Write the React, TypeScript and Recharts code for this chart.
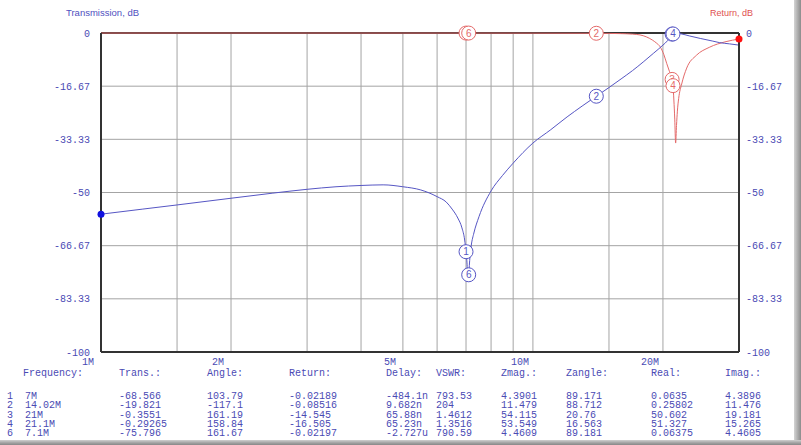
import React from "react";
import {
  ComposedChart,
  Line,
  Scatter,
  XAxis,
  YAxis,
  CartesianGrid,
  ReferenceLine,
} from "recharts";

// ---- axis ticks ----
const xGridTicks = [1, 1.5, 2, 3, 4, 5, 6, 7, 8, 9, 10, 15, 20, 30];
const xLabelValues = [1, 2, 5, 10, 20];
const xLabelTexts = ["1M", "2M", "5M", "10M", "20M"];
const yTicks = [0, -16.67, -33.33, -50, -66.67, -83.33, -100];
const yLabels = ["0", "-16.67", "-33.33", "-50", "-66.67", "-83.33", "-100"];

// ---- Transmission curve (MHz, dB) ----
const transFreq = [
  1, 1.25, 1.5, 2, 2.5, 3, 3.5, 4, 4.5, 5, 5.5, 6, 6.3, 6.5, 6.7, 6.85, 6.95,
  7.0, 7.04, 7.07, 7.1, 7.15, 7.2, 7.3, 7.5, 8, 8.5, 9, 10, 11, 12, 13, 14.02,
  15, 16, 17, 18, 19, 20, 20.5, 21, 21.1, 21.5, 22, 23, 24.4, 26, 27, 28.5, 30,
];
const transDb = [
  -56.8, -55.2, -53.9, -51.8, -50.2, -49.0, -48.2, -47.8, -47.6, -48.2, -49.2,
  -51.3, -53.0, -55.2, -58.0, -61.1, -64.9, -68.566, -72.5, -78.0, -75.796,
  -70.0, -66.5, -62.7, -57.6, -49.5, -44.7, -40.8, -34.5, -30.3, -26.3, -22.9,
  -19.821, -17.1, -14.4, -11.8, -9.1, -6.4, -3.8, -2.4, -0.3551, -0.29265, -0.1,
  -0.25, -0.9, -1.7, -2.5, -3.0, -3.4, -3.8,
];

// ---- Return curve (MHz, dB) ----
const retFreq = [
  1, 3, 5, 7, 7.1, 10, 14.02, 15, 16, 17, 17.7, 18.3, 18.9, 19.3, 19.7, 20.1,
  20.4, 20.7, 21, 21.1, 21.2, 21.3, 21.4, 21.5, 21.6, 21.75, 22.1, 22.7, 23.9,
  25.6, 28, 30,
];
const retDb = [
  -0.01, -0.012, -0.015, -0.02189, -0.02197, -0.04, -0.08516, -0.12, -0.2,
  -0.35, -0.6, -1.2, -2.2, -3.1, -4.3, -6.8, -9.5, -12.0, -14.545, -16.505,
  -21.0, -27.0, -34.5, -29.0, -24.5, -20.5, -16.0, -11.0, -7.0, -4.5, -2.7,
  -1.9,
];

// ---- Markers / table ----
const markerIds = [1, 2, 3, 4, 6];
const markerFreqLabels = ["7M", "14.02M", "21M", "21.1M", "7.1M"];
const markerFreq = [7, 14.02, 21, 21.1, 7.1];
const markerTrans = [-68.566, -19.821, -0.3551, -0.29265, -75.796];
const markerAngle = ["103.79", "-117.1", "161.19", "158.84", "161.67"];
const markerReturn = [-0.02189, -0.08516, -14.545, -16.505, -0.02197];
const markerDelay = ["-484.1n", "9.682n", "65.88n", "65.23n", "-2.727u"];
const markerVswr = ["793.53", "204", "1.4612", "1.3516", "790.59"];
const markerZmag = ["4.3901", "11.479", "54.115", "53.549", "4.4609"];
const markerZangle = ["89.171", "88.712", "20.76", "16.563", "89.181"];
const markerReal = ["0.0635", "0.25802", "50.602", "51.327", "0.06375"];
const markerImag = ["4.3896", "11.476", "19.181", "15.265", "4.4605"];

const tableHeaders = [
  "Frequency:", "Trans.:", "Angle:", "Return:", "Delay:", "VSWR:",
  "Zmag.:", "Zangle:", "Real:", "Imag.:",
];

const transData = transFreq.map((f, i) => ({ f, v: transDb[i] }));
const retData = retFreq.map((f, i) => ({ f, v: retDb[i] }));
const transMarkers = markerIds.map((id, i) => ({ f: markerFreq[i], v: markerTrans[i], id }));
const retMarkers = markerIds.map((id, i) => ({ f: markerFreq[i], v: markerReturn[i], id }));

const BLUE = "#5656c4";
const RED = "#e46a6a";
const TXT = "#4a4ab4";
const MONO = "'Liberation Mono', 'DejaVu Sans Mono', monospace";
const SANS = "'Liberation Sans', Arial, sans-serif";

const XTick = (props: any) => {
  const { x, y, payload } = props;
  const idx = xLabelValues.indexOf(payload.value);
  if (idx < 0) return <g />;
  return (
    <text x={x - 13} y={y + 13} textAnchor="middle" fill={TXT} fontSize={10} fontFamily={MONO}>
      {xLabelTexts[idx]}
    </text>
  );
};

const makeMarker = (color: string) => (props: any) => {
  const { cx, cy, payload } = props;
  return (
    <g>
      <circle cx={cx} cy={cy} r={7} fill="#ffffff" stroke={color} strokeWidth={1} />
      <text x={cx} y={cy + 3.5} textAnchor="middle" fill={color} fontSize={10} fontFamily={SANS}>
        {payload.id}
      </text>
    </g>
  );
};

const firstDot = (props: any) => {
  const { cx, cy, index } = props;
  if (index !== 0) return <g key={index} />;
  return <circle key={index} cx={cx} cy={cy} r={3.5} fill="#1010e0" />;
};
const lastDot = (props: any) => {
  const { cx, cy, index } = props;
  if (index !== retData.length - 1) return <g key={index} />;
  return <circle key={index} cx={cx} cy={cy} r={3.5} fill="#ff1010" />;
};

const colX = [23, 119, 207, 289, 386, 436, 501, 566, 651, 725];
const rowY = [396.5, 405.8, 415, 424.3, 433.6];

export default function App() {
  const cell = (x: number, y: number, s: string, key: string) => (
    <div
      key={key}
      style={{
        position: "absolute",
        left: x,
        top: y - 4.5,
        height: 9,
        fontSize: 10,
        lineHeight: "9px",
        fontFamily: MONO,
        color: TXT,
        whiteSpace: "pre",
      }}
    >
      {s}
    </div>
  );

  const rows: React.ReactNode[] = [];
  markerIds.forEach((id, i) => {
    const y = rowY[i];
    const vals = [
      markerFreqLabels[i], String(markerTrans[i]), markerAngle[i], String(markerReturn[i]),
      markerDelay[i], markerVswr[i], markerZmag[i], markerZangle[i], markerReal[i], markerImag[i],
    ];
    rows.push(cell(7, y, String(id), `n${i}`));
    vals.forEach((v, j) => rows.push(cell(j === 0 ? 25 : colX[j], y, v, `c${i}-${j}`)));
  });

  return (
    <div style={{ position: "absolute", left: 0, top: 0, width: 801, height: 445, background: "#ffffff", overflow: "hidden" }}>
      <ComposedChart width={801} height={445} margin={{ top: 33, right: 0, bottom: 0, left: 0 }}>
        <CartesianGrid xAxisId="x" yAxisId="l" stroke="#a4a4a4" strokeWidth={1} />
        <XAxis
          xAxisId="x"
          dataKey="f"
          type="number"
          scale="log"
          domain={[1, 30]}
          ticks={xGridTicks}
          interval={0}
          height={93}
          tickSize={0}
          tickMargin={0}
          tickLine={false}
          axisLine={{ stroke: "#333333", strokeWidth: 2 }}
          tick={<XTick />}
        />
        <YAxis
          yAxisId="l"
          dataKey="v"
          orientation="left"
          type="number"
          domain={[-100, 0]}
          ticks={yTicks}
          interval={0}
          width={101}
          tickSize={0}
          tickMargin={11}
          tickLine={false}
          axisLine={{ stroke: "#333333", strokeWidth: 2 }}
          tick={{ fill: TXT, fontSize: 10, fontFamily: MONO }}
          tickFormatter={(v: number) => yLabels[yTicks.indexOf(v)]}
        />
        <YAxis
          yAxisId="r"
          dataKey="v"
          orientation="right"
          type="number"
          domain={[-100, 0]}
          ticks={yTicks}
          interval={0}
          width={62}
          tickSize={0}
          tickMargin={7}
          tickLine={false}
          axisLine={{ stroke: "#333333", strokeWidth: 2 }}
          tick={{ fill: TXT, fontSize: 10, fontFamily: MONO }}
          tickFormatter={(v: number) => yLabels[yTicks.indexOf(v)]}
        />
        <ReferenceLine xAxisId="x" yAxisId="l" y={0} stroke="#333333" strokeWidth={2} />
        <Line
          xAxisId="x"
          yAxisId="r"
          data={retData}
          dataKey="v"
          type="monotone"
          stroke={RED}
          strokeWidth={1}
          dot={lastDot}
          activeDot={false}
          isAnimationActive={false}
        />
        <Line
          xAxisId="x"
          yAxisId="l"
          data={transData}
          dataKey="v"
          type="monotone"
          stroke={BLUE}
          strokeWidth={1}
          dot={firstDot}
          activeDot={false}
          isAnimationActive={false}
        />
        <Scatter
          xAxisId="x"
          yAxisId="r"
          data={retMarkers}
          dataKey="v"
          shape={makeMarker(RED)}
          isAnimationActive={false}
        />
        <Scatter
          xAxisId="x"
          yAxisId="l"
          data={transMarkers}
          dataKey="v"
          shape={makeMarker(BLUE)}
          isAnimationActive={false}
        />
      </ComposedChart>

      <div style={{ position: "absolute", left: 66, top: 7, fontSize: 9.5, lineHeight: "12px", fontFamily: SANS, color: "#5050c0", whiteSpace: "pre" }}>
        Transmission, dB
      </div>
      <div style={{ position: "absolute", left: 710, top: 7, fontSize: 9, lineHeight: "12px", fontFamily: SANS, color: "#e05050", whiteSpace: "pre" }}>
        Return, dB
      </div>

      {tableHeaders.map((h, j) => cell(colX[j], 373, h, `h${j}`))}
      {rows}

      <div style={{ position: "absolute", left: 794, top: 0, width: 7, height: 445, background: "linear-gradient(to right, #d4d4d4, #a8a8a8 60%, #8c8c8c)" }} />
      <div style={{ position: "absolute", left: 0, top: 440, width: 801, height: 5, background: "linear-gradient(to bottom, #d0d0d0, #a0a0a0 60%, #888888)" }} />
    </div>
  );
}
